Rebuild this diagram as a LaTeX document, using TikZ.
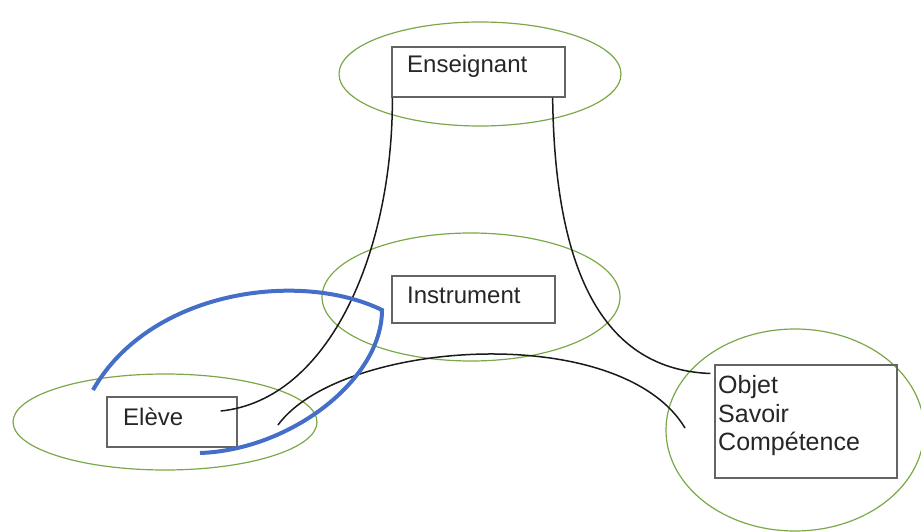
\documentclass[tikz,border=0pt]{standalone}
\usepackage{fontspec}
\setmainfont{Liberation Sans}
\usetikzlibrary{shapes.geometric}
\definecolor{zone}{RGB}{122,168,72}
\definecolor{frame}{RGB}{100,100,100}
\definecolor{path}{RGB}{68,110,200}
\begin{document}
\begin{tikzpicture}[x=1pt,y=-1pt,
  zone/.style={draw=zone,line width=1.2pt,ellipse,inner sep=0pt},
  pole/.style={draw=frame,line width=1.3pt,rectangle,inner sep=0pt},
  word/.style={anchor=base west,inner sep=0pt,font=\fontsize{24}{28}\selectfont,text=black!85},
  link/.style={draw=black!90,line width=1.5pt},
  loop/.style={draw=path,line width=4pt}]
\useasboundingbox (0,0) rectangle (921,532);

% zones
\node[zone,minimum width=282pt,minimum height=104pt] (zens) at (480,74) {};
\node[zone,minimum width=298pt,minimum height=128pt] (zins) at (471,297) {};
\node[zone,minimum width=304pt,minimum height=96pt] (zel) at (165,422) {};
\node[zone,minimum width=258pt,minimum height=202pt] (zobj) at (795,430) {};

% poles
\node[pole,minimum width=173pt,minimum height=50pt] (ens) at (478.5,72) {};
\node[pole,minimum width=163pt,minimum height=47pt] (ins) at (473.5,299.5) {};
\node[pole,minimum width=130pt,minimum height=50pt] (el) at (172,422) {};
\node[pole,minimum width=182pt,minimum height=113pt] (obj) at (806,421.5) {};

% labels
\node[word] (tens) at (407,73) {Enseignant};
\node[word] (tins) at (407,303) {Instrument};
\node[word] (tel) at (123,425) {Elève};
\node[word,font=\fontsize{25}{29}\selectfont] (tobj1) at (718,393) {Objet};
\node[word,font=\fontsize{25}{29}\selectfont] (tobj2) at (718,422) {Savoir};
\node[word,font=\fontsize{25}{29}\selectfont] (tobj3) at (718,450) {Compétence};

% connector end points (shifts are in page direction: positive y is up)
\coordinate (ensL) at ([xshift=1pt]ens.south west);
\coordinate (ensR) at ([xshift=-13pt]ens.south east);
\coordinate (elR) at ([xshift=-17pt,yshift=11pt]el.east);
\coordinate (elOut) at (278,425);
\coordinate (objL) at ([xshift=-4pt,yshift=48pt]obj.west);
\coordinate (objIn) at (685,428);

% connectors
\draw[link] (ensL) .. controls (393,250) and (330,400) .. (elR);
\draw[link] (ensR) .. controls (555,300) and (620,370) .. (objL);
\draw[link] (elOut) .. controls (340,340) and (620,320) .. (objIn);

% learner loop
\draw[loop] (93,390) .. controls (150,290) and (300,270) .. (382,310)
  .. controls (382,380) and (290,450) .. (200,453);
\end{tikzpicture}
\end{document}
